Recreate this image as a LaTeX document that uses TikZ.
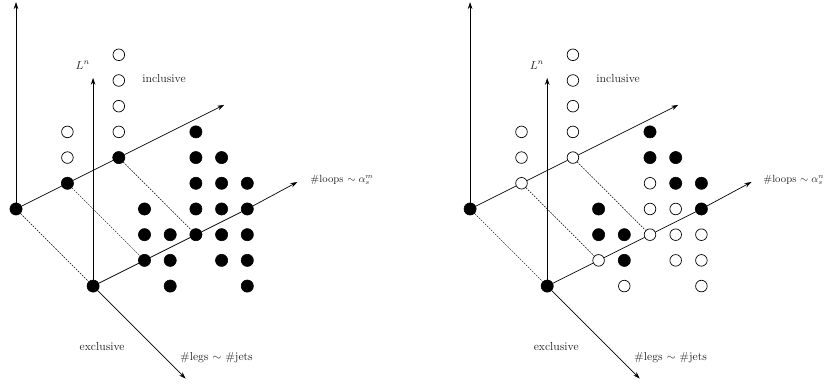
\documentclass[tikz,border=0pt]{standalone}
\usetikzlibrary{arrows.meta}
\tikzset{
  dotf/.style={circle,fill=black,draw=black,line width=0.5pt,inner sep=0pt,minimum size=10.5pt},
  doto/.style={circle,fill=white,draw=black,line width=0.6pt,inner sep=0pt,minimum size=10pt},
  axis/.style={line width=0.6pt,-{Stealth[length=6pt,width=4pt]}},
  guide/.style={line width=0.4pt,dash pattern=on 1.5pt off 1pt},
  lbl/.style={inner sep=1pt,text=black!85},
  looplbl/.style={lbl,anchor=west,inner sep=0pt,font=\small}
}
\begin{document}
\begin{tikzpicture}[x=0.778cm,y=0.778cm]
\useasboundingbox (-0.623,-6.887) rectangle (31.48,8.132);
% ---------------- left panel ----------------
\begin{scope}
  \coordinate (Ltop) at (0,8.05);
  \coordinate (LLtop) at (3,5.1);
  \coordinate (Lback) at (8.1,4.05);
  \coordinate (Lfront) at (10.95,1.05);
  \coordinate (Llegs) at (6.6,-6.6);
  \node[dotf] (LA) at (0,0) {};
  \node[dotf] (LB1) at (2,1) {};
  \node[dotf] (LB2) at (4,2) {};
  \node[dotf] (LO) at (3,-3) {};
  \node[dotf] (LF1) at (5,-2) {};
  \node[dotf] (LF2) at (7,-1) {};
  \node[dotf] (LF3) at (9,0) {};
  \foreach \x/\y [count=\i] in {2/2,2/3,4/3,4/4,4/5,4/6}
    \node[doto] (Lo\i) at (\x,\y) {};
  \foreach \x/\y [count=\i] in {5/0,5/-1,6/-1,6/-2,6/-3,7/3,7/2,7/1,7/0,8/2,8/1,8/0,8/-1,8/-2,9/1,9/-1,9/-2,9/-3}
    \node[dotf] (Lf\i) at (\x,\y) {};
  \draw[axis] (LA) -- (Ltop);
  \draw[axis] (LO) -- (LLtop);
  \draw[axis] (LO) -- (Llegs);
  \draw[line width=0.6pt] (LA) -- (LB1);
  \draw[line width=0.6pt] (LB1) -- (LB2);
  \draw[axis] (LB2) -- (Lback);
  \draw[line width=0.6pt] (LO) -- (LF1);
  \draw[line width=0.6pt] (LF1) -- (LF2);
  \draw[line width=0.6pt] (LF2) -- (LF3);
  \draw[axis] (LF3) -- (Lfront);
  \draw[guide] (LA) -- (LO);
  \draw[guide] (LB1) -- (LF1);
  \draw[guide] (LB2) -- (LF2);
  \node[lbl] (LLn) at (2.6,5.6) {$L^n$};
  \node[lbl] (Lincl) at (5.76,5.07) {inclusive};
  \node[looplbl] (Lloops) at (11.45,1.13) {\#loops $\sim\alpha_s^m$};
  \node[lbl] (Lexcl) at (3.35,-5.37) {exclusive};
  \node[lbl] (Llegslbl) at (7.8,-5.8) {\#legs $\sim$ \#jets};
\end{scope}
% ---------------- right panel ----------------
\begin{scope}[shift={(17.67,0)}]
  \coordinate (Rtop) at (0,8.05);
  \coordinate (RLtop) at (3,5.1);
  \coordinate (Rback) at (8.1,4.05);
  \coordinate (Rfront) at (10.95,1.05);
  \coordinate (Rlegs) at (6.6,-6.6);
  \node[dotf] (RA) at (0,0) {};
  \node[doto] (RB1) at (2,1) {};
  \node[doto] (RB2) at (4,2) {};
  \node[dotf] (RO) at (3,-3) {};
  \node[doto] (RF1) at (5,-2) {};
  \node[doto] (RF2) at (7,-1) {};
  \node[dotf] (RF3) at (9,0) {};
  \foreach \x/\y [count=\i] in {2/2,2/3,4/3,4/4,4/5,4/6,6/-3,7/1,7/0,8/0,8/-1,8/-2,9/-1,9/-2,9/-3}
    \node[doto] (Ro\i) at (\x,\y) {};
  \foreach \x/\y [count=\i] in {5/0,5/-1,6/-1,6/-2,7/3,7/2,8/2,8/1,9/1}
    \node[dotf] (Rf\i) at (\x,\y) {};
  \draw[axis] (RA) -- (Rtop);
  \draw[axis] (RO) -- (RLtop);
  \draw[axis] (RO) -- (Rlegs);
  \draw[line width=0.6pt] (RA) -- (RB1);
  \draw[line width=0.6pt] (RB1) -- (RB2);
  \draw[axis] (RB2) -- (Rback);
  \draw[line width=0.6pt] (RO) -- (RF1);
  \draw[line width=0.6pt] (RF1) -- (RF2);
  \draw[line width=0.6pt] (RF2) -- (RF3);
  \draw[axis] (RF3) -- (Rfront);
  \draw[guide] (RA) -- (RO);
  \draw[guide] (RB1) -- (RF1);
  \draw[guide] (RB2) -- (RF2);
  \node[lbl] (RLn) at (2.6,5.6) {$L^n$};
  \node[lbl] (Rincl) at (5.76,5.07) {inclusive};
  \node[looplbl] (Rloops) at (11.4,1.13) {\#loops $\sim\alpha_s^n$};
  \node[lbl] (Rexcl) at (3.35,-5.37) {exclusive};
  \node[lbl] (Rlegslbl) at (7.8,-5.8) {\#legs $\sim$ \#jets};
\end{scope}
\end{tikzpicture}
\end{document}
